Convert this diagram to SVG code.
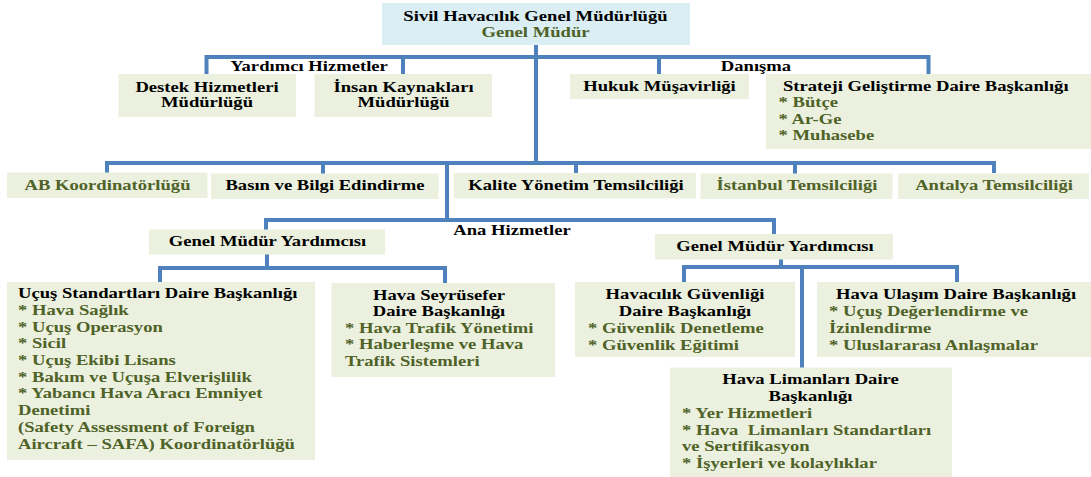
<svg xmlns="http://www.w3.org/2000/svg" width="1091" height="477" viewBox="0 0 1091 477">
<style>
text{font-family:"Liberation Serif","Times New Roman",serif;font-weight:bold;font-size:14px;fill:#000}
.g{fill:#4F6228}
.c{text-anchor:middle}
.box{fill:#EBF1DE}
.top{fill:#DAEEF3}
.ln{fill:none;stroke:#4F81BD;stroke-width:4;stroke-linejoin:miter}
.pre{white-space:pre}
</style>
<rect width="1091" height="477" fill="#fff"/>
<g id="connectors">
<path class="ln" d="M536,45 V163"/>
<path class="ln" d="M206.5,74 V57 H928.5 V74 M403,57 V74 M659,57 V74"/>
<path class="ln" d="M107,173 V163 H994 V173 M323,163 V174 M576,163 V173 M795,163 V174 M447,163 V220"/>
<path class="ln" d="M266,230 V220 H774 V235"/>
<path class="ln" d="M267,254 V268 M160,282 V268 H445 V283"/>
<path class="ln" d="M781,259 V267 M684,282 V267 H957 V282 M802,267 V368"/>
</g>
<g id="genel-mudur">
<rect class="top" x="382" y="3" width="308" height="42"/>
<text class="c" transform="translate(535.5 0) scale(1.33 1)"><tspan x="0" y="21">Sivil Havacılık Genel Müdürlüğü</tspan><tspan class="g" x="0" y="37">Genel Müdür</tspan></text>
</g>
<g id="lbl-yardimci"><text class="c" transform="translate(309 0) scale(1.33 1)" x="0" y="71">Yardımcı Hizmetler</text></g>
<g id="lbl-danisma"><text class="c" transform="translate(756 0) scale(1.33 1)" x="0" y="71">Danışma</text></g>
<g id="lbl-ana"><text class="c" transform="translate(512 0) scale(1.33 1)" x="0" y="235">Ana Hizmetler</text></g>
<g id="destek">
<rect class="box" x="118.5" y="74" width="177.5" height="43"/>
<text class="c" transform="translate(207 0) scale(1.33 1)"><tspan x="0" y="92">Destek Hizmetleri</tspan><tspan x="0" y="107.5">Müdürlüğü</tspan></text>
</g>
<g id="insan">
<rect class="box" x="314.5" y="74" width="177.5" height="43"/>
<text class="c" transform="translate(403.5 0) scale(1.33 1)"><tspan x="0" y="92">İnsan Kaynakları</tspan><tspan x="0" y="107.5">Müdürlüğü</tspan></text>
</g>
<g id="hukuk">
<rect class="box" x="570" y="74" width="179" height="25"/>
<text class="c" transform="translate(659.5 0) scale(1.33 1)" x="0" y="91">Hukuk Müşavirliği</text>
</g>
<g id="strateji">
<rect class="box" x="766" y="74" width="325" height="75"/>
<text transform="translate(783 0) scale(1.33 1)" x="0" y="91">Strateji Geliştirme Daire Başkanlığı</text>
<text class="g" transform="translate(778.5 0) scale(1.33 1)"><tspan x="0" y="107.5">* Bütçe</tspan><tspan x="0" y="124">* Ar-Ge</tspan><tspan x="0" y="140.5">* Muhasebe</tspan></text>
</g>
<g id="ab">
<rect class="box" x="7" y="172.5" width="200.5" height="25.5"/>
<text class="c g" transform="translate(107.5 0) scale(1.33 1)" x="0" y="190">AB Koordinatörlüğü</text>
</g>
<g id="basin">
<rect class="box" x="211" y="173.5" width="227.5" height="25.5"/>
<text class="c" transform="translate(325 0) scale(1.33 1)" x="0" y="190">Basın ve Bilgi Edindirme</text>
</g>
<g id="kalite">
<rect class="box" x="454" y="173" width="242" height="25.5"/>
<text class="c" transform="translate(576 0) scale(1.33 1)" x="0" y="190">Kalite Yönetim Temsilciliği</text>
</g>
<g id="istanbul">
<rect class="box" x="700.5" y="173.5" width="192" height="25.5"/>
<text class="c g" transform="translate(797 0) scale(1.33 1)" x="0" y="190">İstanbul Temsilciliği</text>
</g>
<g id="antalya">
<rect class="box" x="898" y="173.5" width="191" height="25.5"/>
<text class="c g" transform="translate(994 0) scale(1.33 1)" x="0" y="190">Antalya Temsilciliği</text>
</g>
<g id="gmy-left">
<rect class="box" x="149" y="229.5" width="236" height="25"/>
<text class="c" transform="translate(267.5 0) scale(1.33 1)" x="0" y="246.5">Genel Müdür Yardımcısı</text>
</g>
<g id="gmy-right">
<rect class="box" x="655" y="234" width="238" height="25.5"/>
<text class="c" transform="translate(775 0) scale(1.33 1)" x="0" y="251">Genel Müdür Yardımcısı</text>
</g>
<g id="ucus">
<rect class="box" x="7" y="282" width="308" height="178"/>
<text transform="translate(18 0) scale(1.33 1)" x="0" y="298">Uçuş Standartları Daire Başkanlığı</text>
<text class="g" transform="translate(18 0) scale(1.33 1)"><tspan x="0" y="315">* Hava Sağlık</tspan><tspan x="0" y="331.7">* Uçuş Operasyon</tspan><tspan x="0" y="348.4">* Sicil</tspan><tspan x="0" y="365.1">* Uçuş Ekibi Lisans</tspan><tspan x="0" y="381.8">* Bakım ve Uçuşa Elverişlilik</tspan><tspan x="0" y="398.5">* Yabancı Hava Aracı Emniyet</tspan><tspan x="0" y="415.2">Denetimi</tspan><tspan x="0" y="431.9">(Safety Assessment of Foreign</tspan><tspan x="0" y="448.6">Aircraft – SAFA) Koordinatörlüğü</tspan></text>
</g>
<g id="seyrusefer">
<rect class="box" x="331.5" y="283" width="223.5" height="94"/>
<text class="c" transform="translate(439 0) scale(1.33 1)"><tspan x="0" y="300">Hava Seyrüsefer</tspan><tspan x="0" y="316.5">Daire Başkanlığı</tspan></text>
<text class="g" transform="translate(345 0) scale(1.33 1)"><tspan x="0" y="333">* Hava Trafik Yönetimi</tspan><tspan x="0" y="349.5">* Haberleşme ve Hava</tspan><tspan x="0" y="366">Trafik Sistemleri</tspan></text>
</g>
<g id="guvenlik">
<rect class="box" x="575" y="282" width="220" height="75"/>
<text class="c" transform="translate(685 0) scale(1.33 1)"><tspan x="0" y="299.5">Havacılık Güvenliği</tspan><tspan x="0" y="316.2">Daire Başkanlığı</tspan></text>
<text class="g" transform="translate(588 0) scale(1.33 1)"><tspan x="0" y="333">* Güvenlik Denetleme</tspan><tspan x="0" y="349.7">* Güvenlik Eğitimi</tspan></text>
</g>
<g id="ulasim">
<rect class="box" x="817" y="282" width="274" height="75"/>
<text class="c" transform="translate(956 0) scale(1.33 1)" x="0" y="299.5">Hava Ulaşım Daire Başkanlığı</text>
<text class="g" transform="translate(829 0) scale(1.33 1)"><tspan x="0" y="316.2">* Uçuş Değerlendirme ve</tspan><tspan x="0" y="333">İzinlendirme</tspan><tspan x="0" y="349.7">* Uluslararası Anlaşmalar</tspan></text>
</g>
<g id="limanlar">
<rect class="box" x="670" y="367.5" width="282" height="109.5"/>
<text class="c" transform="translate(810.5 0) scale(1.33 1)"><tspan x="0" y="384.5">Hava Limanları Daire</tspan><tspan x="0" y="401.2">Başkanlığı</tspan></text>
<text class="g pre" transform="translate(682 0) scale(1.33 1)"><tspan x="0" y="417.9">* Yer Hizmetleri</tspan><tspan x="0" y="434.6">* Hava  Limanları Standartları</tspan><tspan x="0" y="451.3">ve Sertifikasyon</tspan><tspan x="0" y="468">* İşyerleri ve kolaylıklar</tspan></text>
</g>
</svg>
